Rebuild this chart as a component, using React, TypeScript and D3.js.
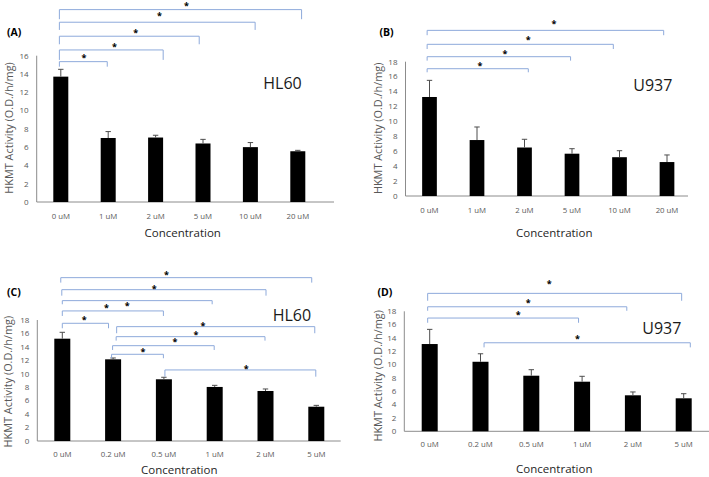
import React from "react";
import * as d3 from "d3";

// ---------- DATA ----------
const catsAB = ["0 uM", "1 uM", "2 uM", "5 uM", "10 uM", "20 uM"];
const catsCD = ["0 uM", "0.2 uM", "0.5 uM", "1 uM", "2 uM", "5 uM"];

const valuesA = [13.71, 7.0, 7.05, 6.4, 6.0, 5.55];
const errorsA = [0.8, 0.7, 0.25, 0.45, 0.5, 0.1];
const valuesB = [13.27, 7.5, 6.5, 5.67, 5.2, 4.55];
const errorsB = [2.23, 1.75, 1.1, 0.67, 0.87, 0.95];
const valuesC = [15.22, 12.15, 9.18, 8.04, 7.44, 5.1];
const errorsC = [0.95, 0.2, 0.3, 0.24, 0.3, 0.2];
const valuesD = [13.09, 10.43, 8.34, 7.44, 5.4, 4.95];
const errorsD = [2.2, 1.2, 0.9, 0.81, 0.5, 0.69];

const ticksA = [0, 2, 4, 6, 8, 10, 12, 14, 16];
const ticks18 = [0, 2, 4, 6, 8, 10, 12, 14, 16, 18];

// brackets: [fromIndex, toIndex, topValue, bottomValue]
const bracketsA = [
  [-0.03, 0.98, 15.35, 14.8],
  [-0.03, 2.16, 16.63, 15.54],
  [-0.03, 2.92, 18.13, 17.25],
  [-0.03, 4.1, 19.66, 18.82],
  [-0.03, 5.08, 21.04, 19.99],
];
const starsA = [
  [0.49, 15.9], [1.13, 17.1], [1.58, 18.63], [2.08, 20.5], [2.65, 21.66],
];
const bracketsB = [
  [-0.05, 2.08, 17.06, 16.58],
  [-0.05, 2.97, 18.67, 18.14],
  [-0.05, 3.87, 20.33, 19.7],
  [-0.05, 4.93, 22.2, 21.55],
];
const starsB = [[1.06, 17.65], [1.59, 19.26], [2.08, 21.09], [2.62, 23.23]];
const bracketsC = [
  [-0.03, 4.91, 24.3, 23.56],
  [-0.01, 4.01, 22.51, 21.62],
  [0, 2.95, 20.88, 20.34],
  [0, 1.99, 19.35, 18.6],
  [0, 0.91, 17.51, 16.77],
  [1.07, 4.97, 17.01, 16.03],
  [1.06, 3.99, 15.52, 14.93],
  [0.99, 2.99, 14.18, 13.54],
  [0.97, 1.99, 12.9, 12.31],
  [2.02, 4.99, 10.57, 9.57],
];
const starsC = [
  [2.05, 25.0], [1.81, 22.81], [0.87, 20.09], [1.28, 20.39], [0.43, 18.2],
  [2.77, 17.37], [2.63, 16.03], [2.22, 15.03], [1.59, 13.54], [3.62, 10.91],
];
const bracketsD = [
  [-0.04, 4.96, 20.69, 19.58],
  [-0.04, 3.88, 18.68, 18.08],
  [-0.04, 2.93, 16.99, 16.28],
  [1.07, 5.13, 13.28, 12.59],
];
const starsD = [[2.35, 22.34], [1.94, 19.49], [1.74, 17.63], [2.91, 14.14]];

// ---------- LAYOUT ----------
const FONT = "'Open Sans', 'Noto Sans', sans-serif";
const BRACKET = "#8eaadb";

type Cfg = {
  letter: string; cell: string; cats: string[]; values: number[]; errors: number[];
  ticks: number[]; yMax: number; brackets: number[][]; stars: number[][];
  axisX: number; y0: number; yTop: number; c0: number; step: number; xEnd: number; barW: number;
  xLabY: number; conc: [number, number]; yTitle: [number, number]; letterPos: [number, number]; cellPos: [number, number];
};

const panels: Cfg[] = [
  {
    letter: "(A)", cell: "HL60", cats: catsAB, values: valuesA, errors: errorsA, ticks: ticksA, yMax: 16,
    brackets: bracketsA, stars: starsA, axisX: 36.7, y0: 202, yTop: 55.7, c0: 60.8, step: 47.4, xEnd: 334, barW: 15,
    xLabY: 216.7, conc: [182.7, 233], yTitle: [9.3, 128], letterPos: [7, 35.5], cellPos: [263.3, 89.3],
  },
  {
    letter: "(B)", cell: "U937", cats: catsAB, values: valuesB, errors: errorsB, ticks: ticks18, yMax: 18,
    brackets: bracketsB, stars: starsB, axisX: 405.5, y0: 196, yTop: 61.7, c0: 429.5, step: 47.5, xEnd: 688, barW: 14.7,
    xLabY: 210.7, conc: [554.3, 233.3], yTitle: [378.3, 128.3], letterPos: [379.5, 35.5], cellPos: [633.3, 90.7],
  },
  {
    letter: "(C)", cell: "HL60", cats: catsCD, values: valuesC, errors: errorsC, ticks: ticks18, yMax: 18,
    brackets: bracketsC, stars: starsC, axisX: 37.3, y0: 441, yTop: 320, c0: 62.3, step: 50.8, xEnd: 340.7, barW: 16,
    xLabY: 454.3, conc: [179.3, 469.5], yTitle: [8.3, 381.7], letterPos: [7, 295.5], cellPos: [272.7, 320.7],
  },
  {
    letter: "(D)", cell: "U937", cats: catsCD, values: valuesD, errors: errorsD, ticks: ticks18, yMax: 18,
    brackets: bracketsD, stars: starsD, axisX: 404.3, y0: 431.3, yTop: 311.3, c0: 429.7, step: 50.8, xEnd: 709, barW: 16,
    xLabY: 444, conc: [554.3, 468.5], yTitle: [377.7, 375.8], letterPos: [377.5, 295.5], cellPos: [642.3, 334],
  },
];

function Panel({ p }: { p: Cfg }) {
  const x = d3.scaleLinear().domain([0, p.cats.length - 1]).range([p.c0, p.c0 + (p.cats.length - 1) * p.step]);
  const y = d3.scaleLinear().domain([0, p.yMax]).range([p.y0, p.yTop]);
  const capW = 5.4;
  return (
    <g>
      {/* axes */}
      <line x1={p.axisX} x2={p.axisX} y1={y(0)} y2={y(p.yMax)} stroke="#8c8c8c" strokeWidth={1} />
      <line x1={p.axisX} x2={p.xEnd} y1={y(0)} y2={y(0)} stroke="#8c8c8c" strokeWidth={1} />
      {p.ticks.map((t) => (
        <text key={t} x={p.axisX - 8} y={y(t)} dy="0.35em" textAnchor="end" fontSize={8} fill="#595959" fontFamily={FONT}>
          {t}
        </text>
      ))}
      {/* bars */}
      {p.values.map((v, i) => (
        <rect key={i} x={x(i) - p.barW / 2} y={y(v)} width={p.barW} height={y(0) - y(v)} fill="#000" />
      ))}
      {/* error bars */}
      {p.values.map((v, i) => (
        <g key={"e" + i} stroke="#4d4d4d" strokeWidth={1}>
          <line x1={x(i)} x2={x(i)} y1={y(v)} y2={y(v + p.errors[i])} />
          <line x1={x(i) - capW / 2} x2={x(i) + capW / 2} y1={y(v + p.errors[i])} y2={y(v + p.errors[i])} />
        </g>
      ))}
      {/* brackets */}
      {p.brackets.map((b, i) => (
        <path key={"b" + i}
          d={`M${x(b[0])},${y(b[3])}V${y(b[2])}H${x(b[1])}V${y(b[3])}`}
          fill="none" stroke={BRACKET} strokeWidth={1} />
      ))}
      {p.stars.map((s, i) => (
        <text key={"s" + i} x={x(s[0])} y={y(s[1]) + 4.6} textAnchor="middle" fontSize={9} fontWeight="bold" fill="#000" fontFamily={FONT}>
          *
        </text>
      ))}
      {/* category labels */}
      {p.cats.map((c, i) => (
        <text key={"c" + i} x={x(i)} y={p.xLabY} dy="0.35em" textAnchor="middle" fontSize={7.8} fill="#595959" fontFamily={FONT}>
          {c}
        </text>
      ))}
      <text x={p.conc[0]} y={p.conc[1]} dy="0.35em" textAnchor="middle" fontSize={11.5} fill="#262626" fontFamily={FONT}>
        Concentration
      </text>
      <text transform={`translate(${p.yTitle[0]},${p.yTitle[1]}) rotate(-90)`} dy="0.35em" textAnchor="middle" fontSize={10.9} fill="#595959" fontFamily={FONT}>
        HKMT Activity (O.D./h/mg)
      </text>
      <text x={p.letterPos[0]} y={p.letterPos[1]} fontSize={10.5} fontWeight="bold" fill="#000" fontFamily={FONT}>
        {p.letter}
      </text>
      <text x={p.cellPos[0]} y={p.cellPos[1]} fontSize={16} fill="#1a1a1a" fontFamily={FONT}>
        {p.cell}
      </text>
    </g>
  );
}

export default function App() {
  return (
    <svg width={709} height={477} style={{ position: "absolute", left: 0, top: 0, background: "#fff" }}>
      <rect width={709} height={477} fill="#fff" />
      {panels.map((p) => (
        <Panel key={p.letter} p={p} />
      ))}
    </svg>
  );
}
